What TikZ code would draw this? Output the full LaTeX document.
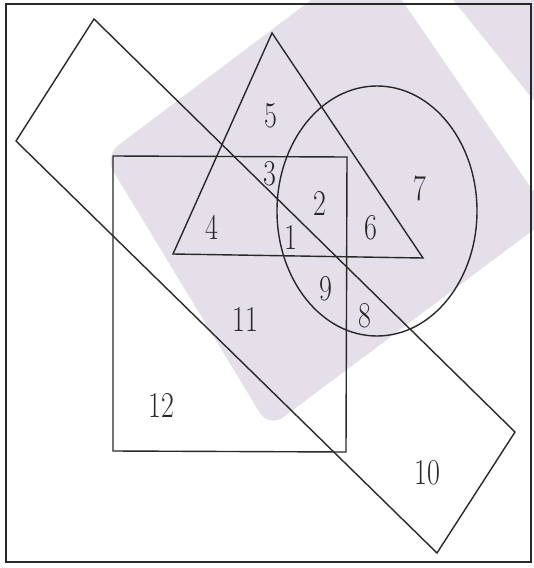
\documentclass[tikz,border=0pt]{standalone}
\usepackage{graphicx}
\definecolor{ink}{RGB}{40,40,40}
\definecolor{wm}{RGB}{229,223,233}
\newcommand\tallnum[1]{\scalebox{1}[1.3]{#1}}
\tikzset{
  shapeline/.style={draw=ink, line width=1.4pt, line join=miter},
  num/.style={inner sep=0pt, text=ink, font=\fontsize{28}{30}\selectfont},
}
\begin{document}
\begin{tikzpicture}[x=1pt, y=-1pt]
\useasboundingbox (0,0) rectangle (534,568);
% watermark background
\fill[wm, rounded corners=18pt] (104,156) -- (351,-30) -- (600,-30) -- (600,180) -- (269,428) -- cycle;
\fill[white] (402,0) -- (453,0) -- (534,101) -- (534,192) -- cycle;
% outer frame
\draw[shapeline] (6,4) rectangle (531,562);
% rotated rectangle
\coordinate (r1) at (94,19);
\coordinate (r2) at (515,432);
\coordinate (r3) at (437,553);
\coordinate (r4) at (16,141);
\draw[shapeline] (r1) -- (r2) -- (r3) -- (r4) -- cycle;
% square
\coordinate (s1) at (113,156);
\coordinate (s2) at (347,157);
\coordinate (s3) at (346,452);
\coordinate (s4) at (113,451);
\draw[shapeline] (s1) -- (s2) -- (s3) -- (s4) -- cycle;
% triangle
\coordinate (t1) at (272,33);
\coordinate (t2) at (423,258);
\coordinate (t3) at (173,254);
\draw[shapeline] (t1) -- (t2) -- (t3) -- cycle;
% circle (drawn as ellipse, as in the picture)
\coordinate (c) at (377,211);
\draw[shapeline] (c) ellipse [x radius=100pt, y radius=125pt];
% labels
\node[num] (n5)  at (271,116) {\tallnum{5}};
\node[num] (n3)  at (270,174) {\tallnum{3}};
\node[num] (n2)  at (320,203) {\tallnum{2}};
\node[num] (n4)  at (212,227) {\tallnum{4}};
\node[num] (n1)  at (291,237) {\tallnum{1}};
\node[num] (n6)  at (371,228) {\tallnum{6}};
\node[num] (n7)  at (420,188) {\tallnum{7}};
\node[num] (n9)  at (326,289) {\tallnum{9}};
\node[num] (n11) at (245,319) {\tallnum{11}};
\node[num] (n8)  at (365,316) {\tallnum{8}};
\node[num] (n12) at (161,405) {\tallnum{12}};
\node[num] (n10) at (427,473) {\tallnum{10}};
\end{tikzpicture}
\end{document}
